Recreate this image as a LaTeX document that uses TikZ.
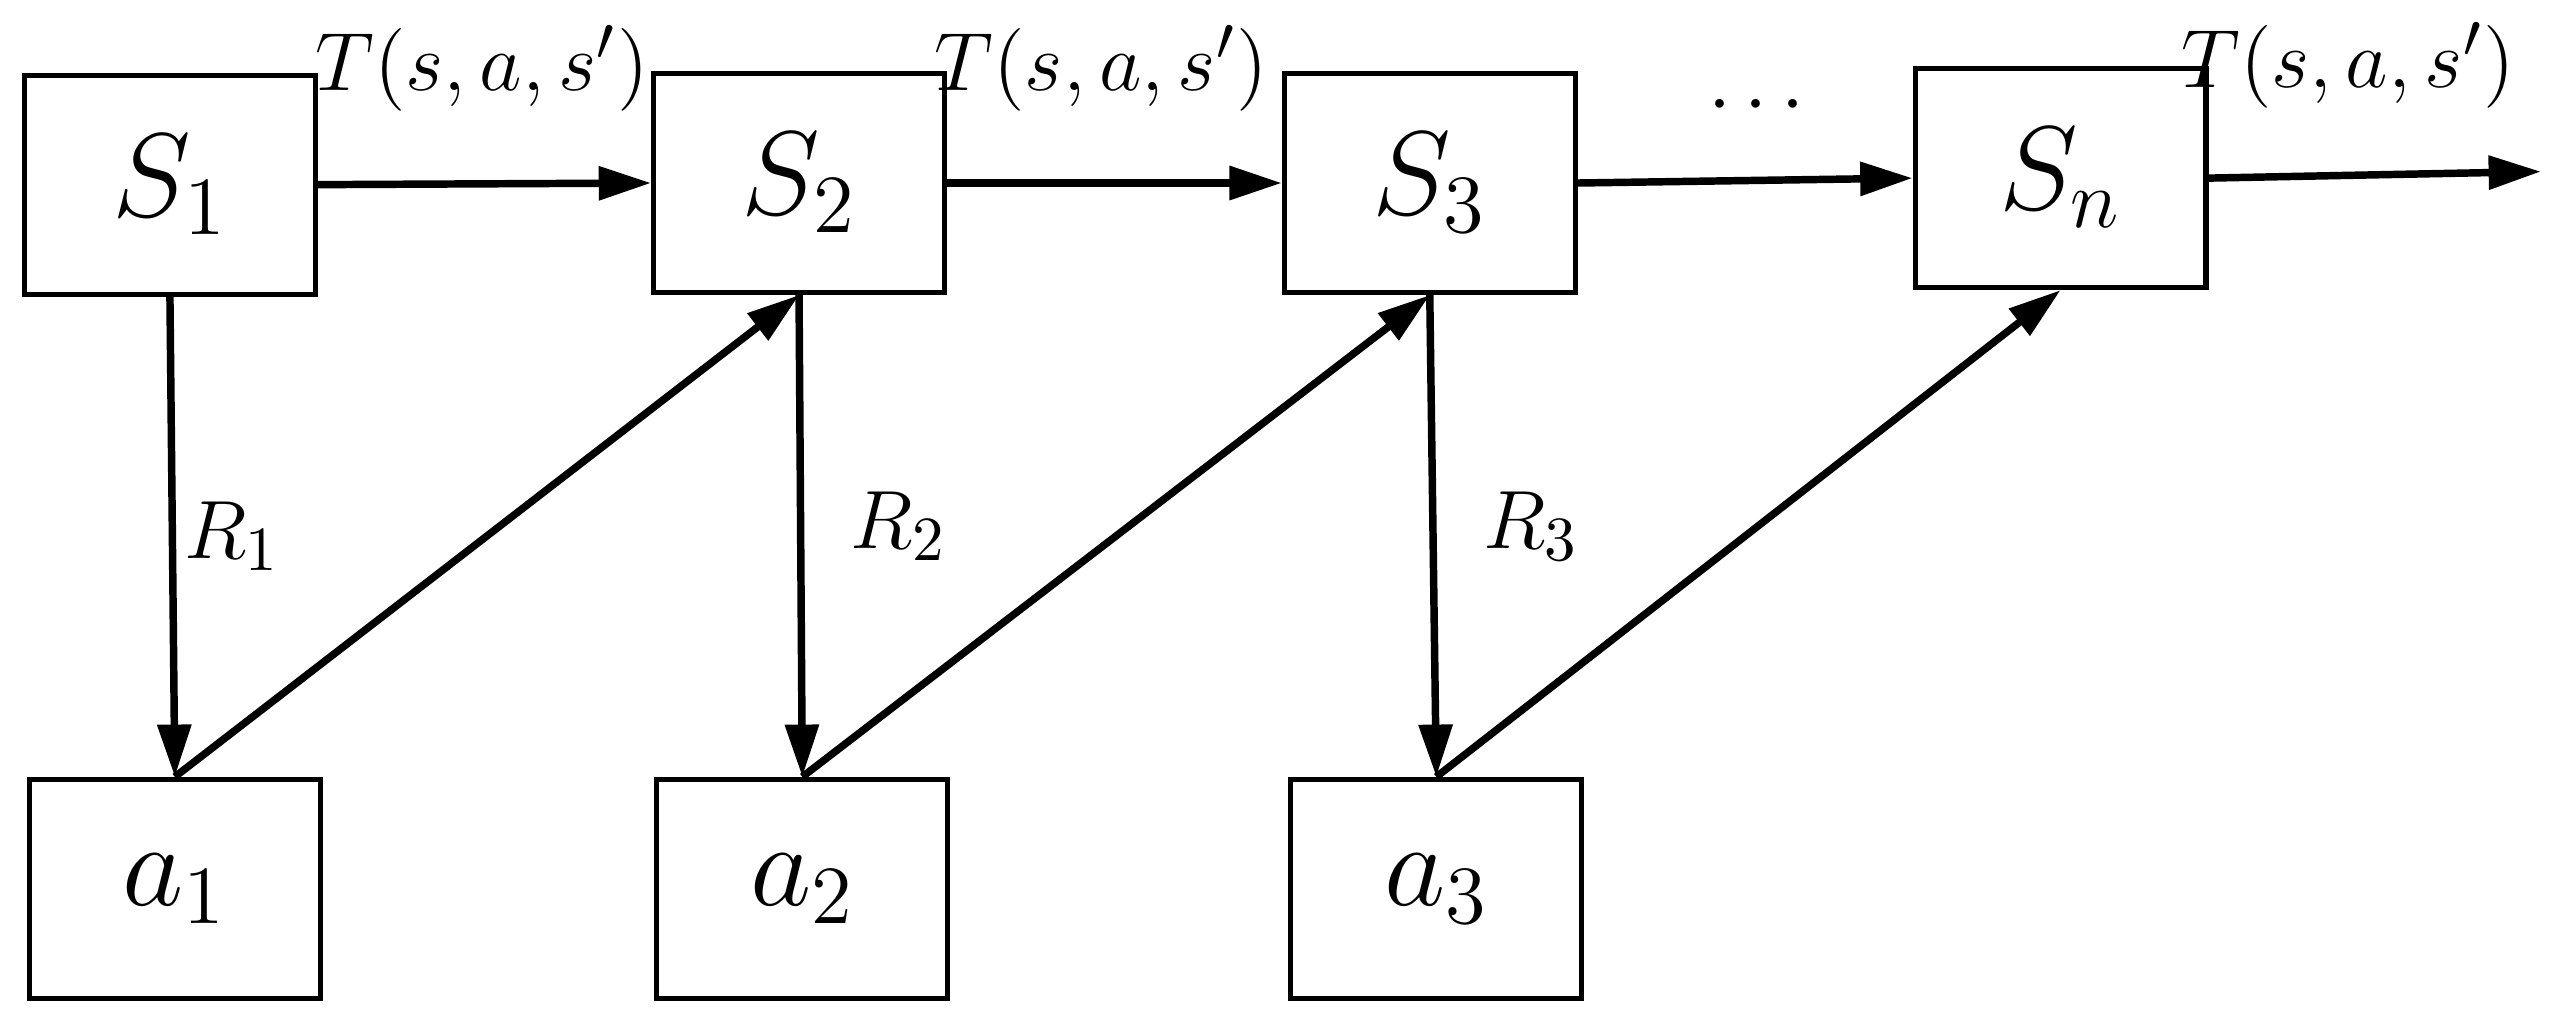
\documentclass[tikz,border=0pt]{standalone}
\usetikzlibrary{arrows.meta}
\begin{document}
\begin{tikzpicture}[
  box/.style={draw,line width=0.9pt,minimum width=1.78cm,minimum height=1.34cm,font=\fontsize{22}{26}\selectfont},
  arr/.style={line width=1.3pt,-{Triangle[length=0.32cm,width=0.2cm]}},
  lab/.style={font=\fontsize{15}{18}\selectfont}]
\useasboundingbox (0,0) rectangle (15.63,-6.26);
\node[box] (S1) at (1.04,-1.13) {$S_1$};
\node[box] (S2) at (4.89,-1.12) {$S_2$};
\node[box] (S3) at (8.75,-1.12) {$S_3$};
\node[box] (Sn) at (12.61,-1.09) {$S_n$};
\node[box] (a1) at (1.07,-5.44) {$a_1$};
\node[box] (a2) at (4.91,-5.44) {$a_2$};
\node[box] (a3) at (8.79,-5.44) {$a_3$};
\coordinate (end) at (15.55,-1.05);
\draw[arr] (S1.east) -- (S2.west);
\draw[arr] (S2.east) -- (S3.west);
\draw[arr] (S3.east) -- (Sn.west);
\draw[arr] (Sn.east) -- (end);
\draw[arr] (S1.south) -- (a1.north);
\draw[arr] (a1.north) -- (S2.south);
\draw[arr] (S2.south) -- (a2.north);
\draw[arr] (a2.north) -- (S3.south);
\draw[arr] (S3.south) -- (a3.north);
\draw[arr] (a3.north) -- (Sn.south);
\node[lab] (t1) at (2.95,-0.42) {$T(s,a,s')$};
\node[lab] (t2) at (6.74,-0.42) {$T(s,a,s')$};
\node[lab] (t3) at (14.37,-0.40) {$T(s,a,s')$};
\node[lab] (dots) at (10.75,-0.65) {$\cdots$};
\node[lab] (r1) at (1.42,-3.28) {$R_1$};
\node[lab] (r2) at (5.50,-3.22) {$R_2$};
\node[lab] (r3) at (9.37,-3.22) {$R_3$};
\end{tikzpicture}
\end{document}
